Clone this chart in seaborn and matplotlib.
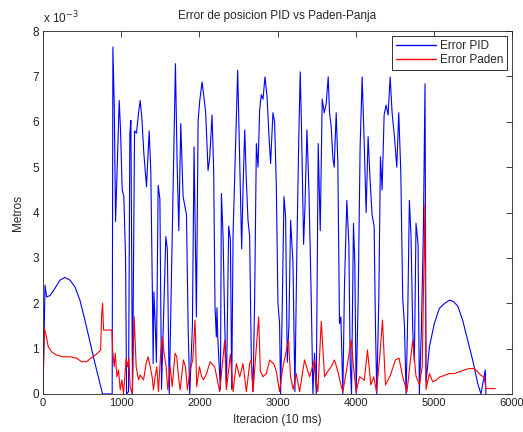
import matplotlib
matplotlib.use("Agg")
import matplotlib.pyplot as plt
import seaborn as sns
import pandas as pd

# Position error (x 1e-3 m) against iteration (10 ms steps)
pid_iter = [0, 26, 47, 90, 153, 217, 281, 345, 409, 472, 536, 600, 664, 728, 762, 885,
            894, 911, 928, 975, 992, 1013, 1034, 1056, 1069, 1094, 1111, 1124, 1145, 1171,
            1196, 1222, 1243, 1264, 1290, 1324, 1358, 1379, 1400, 1409, 1418, 1434, 1451,
            1473, 1495, 1516, 1571, 1590, 1615, 1694, 1716, 1737, 1762, 1792, 1818, 1835,
            1856, 1877, 1911, 1932, 1962, 1984, 2005, 2035, 2081, 2111, 2132, 2162, 2183,
            2200, 2217, 2225, 2234, 2269, 2282, 2303, 2324, 2346, 2375, 2397, 2414, 2431,
            2490, 2507, 2524, 2541, 2558, 2580, 2601, 2622, 2643, 2665, 2686, 2707, 2729,
            2750, 2771, 2792, 2814, 2839, 2865, 2890, 2911, 2941, 2962, 2984, 3005, 3026,
            3039, 3060, 3082, 3103, 3124, 3145, 3167, 3197, 3222, 3248, 3273, 3290, 3307,
            3333, 3350, 3376, 3401, 3431, 3452, 3473, 3495, 3520, 3546, 3571, 3597, 3622,
            3648, 3665, 3686, 3707, 3724, 3750, 3771, 3792, 3810, 3835, 3856, 3886, 3912,
            3929, 3946, 3971, 3988, 4005, 4031, 4056, 4082, 4107, 4133, 4158, 4184, 4209,
            4235, 4252, 4269, 4295, 4316, 4337, 4363, 4388, 4414, 4440, 4465, 4495, 4525,
            4550, 4576, 4601, 4622, 4644, 4665, 4686, 4707, 4729, 4750, 4771, 4797, 4814,
            4839, 4865, 4886, 4899, 4942, 5006, 5070, 5134, 5197, 5248, 5304, 5367, 5431,
            5495, 5559, 5601, 5657, 5665]
pid_err = [0.0, 2.4, 2.14, 2.17, 2.33, 2.51, 2.57, 2.51, 2.36, 2.07, 1.63, 1.15, 0.68, 0.24, 0.0, 0.0,
           7.65, 6.4, 3.8, 6.47, 5.8, 4.5, 4.35, 3.0, 0.0, 0.05, 5.74, 6.03, 0.0, 5.8,
           5.75, 6.2, 6.47, 6.1, 5.3, 4.57, 5.8, 4.9, 2.1, 0.67, 2.25, 1.6, 0.7,
           4.6, 4.3, 0.1, 3.47, 3.2, 0.0, 7.28, 5.05, 3.6, 5.96, 4.35, 4.1, 3.95,
           1.5, 0.0, 1.5, 5.45, 1.7, 6.03, 6.47, 6.88, 6.2, 4.93, 5.2, 6.15, 4.93,
           1.92, 1.26, 1.9, 1.3, 0.1, 4.42, 3.47, 1.55, 0.1, 3.7, 3.4, 0.1, 3.5,
           7.14, 5.85, 4.5, 3.2, 4.5, 5.82, 4.7, 3.83, 3.47, 0.7, 0.05, 2.1, 5.52,
           5.0, 6.26, 6.6, 6.5, 6.99, 6.57, 5.7, 5.08, 6.2, 6.0, 4.6, 2.0, 1.55,
           0.0, 1.9, 4.35, 3.9, 0.7, 1.5, 3.83, 2.9, 0.05, 3.3, 5.8, 7.1, 5.8,
           3.3, 4.1, 5.82, 4.5, 2.1, 0.0, 0.9, 0.0, 5.52, 3.6, 6.5, 6.2, 6.4,
           6.99, 6.2, 5.9, 5.2, 5.0, 6.2, 5.1, 1.55, 1.7, 0.0, 2.4, 4.27, 3.3,
           0.7, 0.0, 3.76, 2.9, 0.0, 2.1, 5.45, 6.99, 5.6, 4.0, 5.67, 4.7, 3.95,
           3.7, 1.5, 0.0, 2.1, 5.23, 4.5, 6.15, 6.37, 6.15, 6.99, 6.2, 5.67, 5.0,
           6.2, 4.9, 2.1, 1.55, 0.0, 1.75, 4.27, 3.47, 1.4, 0.7, 3.76, 3.3, 0.0,
           1.4, 3.6, 6.84, 0.25, 1.04, 1.56, 1.89, 1.99, 2.07, 2.04, 1.94, 1.63, 1.19,
           0.75, 0.24, 0.0, 0.53, 0.0]

paden_iter = [0, 17, 38, 68, 111, 170, 260, 345, 430, 494, 557, 621, 685, 737, 749, 762, 775, 881,
              890, 911, 924, 945, 966, 988, 1009, 1030, 1064, 1081, 1098, 1115, 1141, 1166,
              1192, 1222, 1243, 1286, 1320, 1345, 1371, 1396, 1413, 1434, 1456, 1477, 1507,
              1528, 1549, 1575, 1596, 1626, 1652, 1690, 1711, 1733, 1754, 1796, 1822, 1847,
              1881, 1915, 1945, 1966, 2001, 2030, 2052, 2094, 2137, 2196, 2260, 2324, 2346,
              2397, 2431, 2473, 2516, 2558, 2601, 2643, 2665, 2686, 2758, 2780, 2814, 2856,
              2899, 2950, 2984, 3026, 3069, 3141, 3165, 3200, 3239, 3282, 3345, 3409, 3473,
              3495, 3515, 3559, 3601, 3643, 3686, 3728, 3771, 3810, 3835, 3880, 3942, 3971,
              4005, 4050, 4110, 4150, 4193, 4230, 4265, 4307, 4342, 4380, 4440, 4508, 4554,
              4600, 4655, 4690, 4729, 4770, 4814, 4850, 4885, 4899, 4942, 4984, 5027, 5070,
              5134, 5197, 5261, 5325, 5389, 5453, 5516, 5559, 5601, 5644, 5665, 5784]
paden_err = [0.15, 1.45, 1.3, 1.04, 0.93, 0.86, 0.82, 0.82, 0.79, 0.71, 0.71, 0.8, 0.88, 0.97, 1.7, 2.0, 1.41, 1.41,
             0.97, 0.6, 0.9, 0.38, 0.53, 0.09, 0.31, 0.0, 0.79, 0.6, 0.79, 0.16, 0.0, 1.7,
             0.6, 0.31, 0.42, 0.31, 0.68, 0.82, 0.6, 0.38, 0.09, 0.38, 0.6, 0.05, 0.97,
             1.26, 0.9, 0.6, 0.09, 0.6, 0.16, 0.9, 0.82, 0.38, 0.09, 0.75, 0.6, 0.09,
             0.53, 0.75, 1.63, 0.16, 0.6, 0.38, 0.31, 0.46, 0.71, 0.6, 0.05, 1.19, 0.1,
             0.88, 0.05, 0.67, 0.38, 0.67, 0.05, 0.67, 0.75, 0.05, 1.7, 0.5, 0.38, 0.45,
             0.75, 0.67, 0.5, 0.05, 0.6, 1.19, 0.4, 0.1, 0.45, 0.05, 0.75, 0.38, 0.75,
             0.3, 0.05, 1.6, 0.38, 0.5, 0.6, 0.75, 0.5, 0.2, 0.05, 0.5, 1.19, 0.6,
             0.05, 0.38, 0.3, 0.97, 0.2, 0.38, 0.05, 0.82, 1.63, 0.2, 0.4, 0.75, 0.79,
             0.38, 0.05, 0.6, 1.19, 0.4, 0.2, 0.6, 4.2, 0.1, 0.45, 0.27, 0.3, 0.37,
             0.41, 0.45, 0.45, 0.49, 0.53, 0.56, 0.56, 0.49, 0.41, 0.37, 0.12, 0.12]

series_names = ["Error PID", "Error Paden"]
series_colors = ["#0000ff", "#ff0000"]
x_ticks = [0, 1000, 2000, 3000, 4000, 5000, 6000]
y_ticks = [0, 1, 2, 3, 4, 5, 6, 7, 8]

pid_df = pd.DataFrame({"iter": pid_iter, "err": [v * 1e-3 for v in pid_err]})
paden_df = pd.DataFrame({"iter": paden_iter, "err": [v * 1e-3 for v in paden_err]})

sns.set_style("white")
plt.rcParams["font.family"] = ["Liberation Sans", "DejaVu Sans"]

fig = plt.figure(figsize=(5.23, 4.32), dpi=100)
ax = fig.add_axes([0.0822, 0.088, 0.897, 0.840])

sns.lineplot(data=pid_df, x="iter", y="err", ax=ax, color=series_colors[0], lw=0.8,
             sort=False, estimator=None, label=series_names[0])
sns.lineplot(data=paden_df, x="iter", y="err", ax=ax, color=series_colors[1], lw=0.8,
             sort=False, estimator=None, label=series_names[1])

ax.set_xlim(0, 6000)
ax.set_ylim(0, 8e-3)
ax.set_xticks(x_ticks)
ax.set_xticklabels([str(t) for t in x_ticks], fontsize=8)
ax.set_yticks([t * 1e-3 for t in y_ticks])
ax.set_yticklabels([str(t) for t in y_ticks], fontsize=8.5)
ax.tick_params(direction="in", length=4, width=0.6, top=True, right=True,
               colors="#222222", pad=3)
for s in ax.spines.values():
    s.set_visible(True)
    s.set_color("#222222")
    s.set_linewidth(0.6)

ax.set_title("Error de posicion PID vs Paden-Panja", fontsize=8.5, pad=9)
ax.set_xlabel("Iteracion (10 ms)", fontsize=8.5, labelpad=4)
ax.set_ylabel("Metros", fontsize=8.5, labelpad=6)
ax.text(0.0, 1.014, r"x 10$^{-3}$", transform=ax.transAxes, fontsize=8.5,
        ha="left", va="bottom")

leg = ax.legend(loc="upper right", fontsize=8.5, frameon=True, fancybox=False,
                framealpha=1, edgecolor="#111111", handlelength=3.4,
                borderaxespad=0.4, labelspacing=0.2, borderpad=0.35,
                handletextpad=0.3)
leg.get_frame().set_linewidth(0.6)
for handle, c in zip(leg.get_lines(), series_colors):
    handle.set_color(c)
    handle.set_linewidth(1.0)

fig.savefig("out.png", dpi=100)
